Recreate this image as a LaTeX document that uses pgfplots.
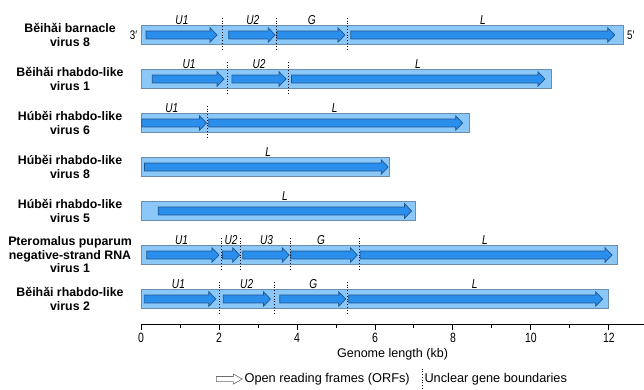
\documentclass[border=0pt]{standalone}
\usepackage{pgfplots}
\pgfplotsset{compat=1.18}
\usepackage{fontspec}
\setmainfont{Liberation Sans}
\newfontfamily\narrowfont[FakeStretch=0.78]{Liberation Sans}
\definecolor{boxfill}{RGB}{140,200,247}
\definecolor{boxedge}{RGB}{105,140,175}
\definecolor{orffill}{RGB}{42,142,236}
\definecolor{orfedge}{RGB}{30,85,145}
\pgfplotsset{
  boxstyle/.style={draw=boxedge, fill=boxfill, line width=0.8bp, mark=none},
  orfstyle/.style={draw=orfedge, fill=orffill, line width=0.7bp, mark=none},
  bndstyle/.style={draw=black, line width=0.8bp, dash pattern=on 1bp off 1.8bp, mark=none},
}
% genome box: length, row
\newcommand{\genome}[2]{%
  \pgfmathsetmacro\yl{#2-0.216}\pgfmathsetmacro\yh{#2+0.216}%
  \edef\tmp{\noexpand\addplot[boxstyle,forget plot] coordinates {(0,\yl) (#1,\yl) (#1,\yh) (0,\yh)} -- cycle;}\tmp}
% ORF arrow: start, end, row
\newcommand{\orf}[3]{%
  \pgfmathsetmacro\hx{max(#1,#2-0.18)}%
  \pgfmathsetmacro\ya{#3-0.09}\pgfmathsetmacro\yb{#3+0.09}%
  \pgfmathsetmacro\yc{#3-0.165}\pgfmathsetmacro\yd{#3+0.165}%
  \edef\tmp{\noexpand\addplot[orfstyle,forget plot] coordinates {(#1,\ya) (\hx,\ya) (\hx,\yc) (#2,#3) (\hx,\yd) (\hx,\yb) (#1,\yb)} -- cycle;}\tmp}
% unclear boundary: x, row
\newcommand{\bnd}[2]{%
  \pgfmathsetmacro\ya{#2-0.33}\pgfmathsetmacro\yb{#2+0.38}%
  \edef\tmp{\noexpand\addplot[bndstyle,forget plot] coordinates {(#1,\ya) (#1,\yb)};}\tmp}
\newcommand{\gl}[3]{\node[font=\narrowfont\itshape\fontsize{13}{13}\selectfont] at (axis cs:#1,#2+0.34) {#3};}
\newcommand{\vname}[2]{\node[font=\fontsize{12.4}{13.6}\selectfont\bfseries, align=center] at (axis cs:-1.82,#1) {#2};}
\begin{document}
\begin{tikzpicture}
\begin{axis}[
  name=ax, at={(0,0)}, anchor=south west,
  scale only axis, width=503bp, height=311bp,
  xmin=0, xmax=12.9, ymin=0.432, ymax=7.5,
  axis x line*=bottom, axis y line=none,
  x axis line style={-, line width=0.9bp},
  xtick={0,2,...,12}, minor xtick={1,3,...,11},
  tick align=outside, major tick length=6bp, minor tick length=4bp,
  every tick/.style={black, line width=0.9bp},
  /pgf/number format/assume math mode=true,
  xticklabel style={font=\narrowfont\fontsize{13.5}{13.5}\selectfont},
  xlabel={Genome length (kb)},
  xlabel style={font=\fontsize{12.6}{12.6}\selectfont, at={(axis description cs:0.5,-0.0965)}, anchor=center},
  clip=false,
  legend style={at={(0.5,-0.177)}, anchor=center, legend columns=2, draw=none, fill=none,
    font=\fontsize{12.8}{12.8}\selectfont,
    /tikz/every even column/.append style={column sep=10bp}},
]
% Row 7: Beihai barnacle virus 8
\genome{12.38}{7}
\orf{0.13}{1.95}{7}\orf{2.25}{3.44}{7}\orf{3.48}{5.23}{7}\orf{5.38}{12.15}{7}
\bnd{2.09}{7}\bnd{3.46}{7}\bnd{5.29}{7}
% Row 6: Beihai rhabdo-like virus 1
\genome{10.53}{6}
\orf{0.29}{2.13}{6}\orf{2.33}{3.72}{6}\orf{3.86}{10.36}{6}
\bnd{2.22}{6}\bnd{3.79}{6}
% Row 5: Hubei rhabdo-like virus 6
\genome{8.42}{5}
\orf{0.02}{1.68}{5}\orf{1.74}{8.25}{5}
\bnd{1.71}{5}
% Row 4: Hubei rhabdo-like virus 8
\genome{6.36}{4}
\orf{0.09}{6.34}{4}
% Row 3: Hubei rhabdo-like virus 5
\genome{7.03}{3}
\orf{0.44}{6.94}{3}
% Row 2: Pteromalus puparum negative-strand RNA virus 1
\genome{12.21}{2}
\orf{0.15}{2.00}{2}\orf{2.09}{2.53}{2}\orf{2.61}{3.80}{2}\orf{3.84}{5.55}{2}\orf{5.62}{12.08}{2}
\bnd{2.05}{2}\bnd{2.56}{2}\bnd{3.82}{2}\bnd{5.59}{2}
% Row 1: Beihai rhabdo-like virus 2
\genome{11.99}{1}
\orf{0.08}{1.92}{1}\orf{2.11}{3.32}{1}\orf{3.56}{5.25}{1}\orf{5.33}{11.84}{1}
\bnd{2.00}{1}\bnd{3.42}{1}\bnd{5.29}{1}
% gene labels
\gl{1.05}{7}{U1}\gl{2.87}{7}{U2}\gl{4.38}{7}{G}\gl{8.77}{7}{L}
\gl{1.23}{6}{U1}\gl{3.03}{6}{U2}\gl{7.10}{6}{L}
\gl{0.79}{5}{U1}\gl{4.97}{5}{L}
\gl{3.26}{4}{L}
\gl{3.69}{3}{L}
\gl{1.04}{2}{U1}\gl{2.31}{2}{U2}\gl{3.22}{2}{U3}\gl{4.62}{2}{G}\gl{8.82}{2}{L}
\gl{0.96}{1}{U1}\gl{2.71}{1}{U2}\gl{4.42}{1}{G}\gl{8.56}{1}{L}
% ends
\node[font=\narrowfont\fontsize{12.5}{12.5}\selectfont] at (axis cs:-0.19,7) {3′};
\node[font=\narrowfont\fontsize{12.5}{12.5}\selectfont] at (axis cs:12.56,7) {5′};
% virus names
\vname{7}{Běihǎi barnacle\\virus 8}
\vname{6}{Běihǎi rhabdo-like\\virus 1}
\vname{5}{Húběi rhabdo-like\\virus 6}
\vname{4}{Húběi rhabdo-like\\virus 8}
\vname{3}{Húběi rhabdo-like\\virus 5}
\vname{2}{Pteromalus puparum\\negative-strand RNA\\virus 1}
\vname{1}{Běihǎi rhabdo-like\\virus 2}
% legend
\addlegendimage{legend image code/.code={\draw[draw=gray!85!black, fill=white, line width=0.6bp] (0bp,-2.5bp) -- (17bp,-2.5bp) -- (17bp,-5bp) -- (26bp,0bp) -- (17bp,5bp) -- (17bp,2.5bp) -- (0bp,2.5bp) -- cycle;}}
\addlegendentry{Open reading frames (ORFs)}
\addlegendimage{legend image code/.code={\draw[black, line width=0.8bp, dash pattern=on 1bp off 1.8bp] (0bp,-10bp) -- (0bp,10bp);}}
\addlegendentry{Unclear gene boundaries}
\end{axis}
\pgfresetboundingbox
\useasboundingbox (ax.south west) ++(-141bp,-66bp) rectangle ++(644bp,390bp);
\end{tikzpicture}
\end{document}
